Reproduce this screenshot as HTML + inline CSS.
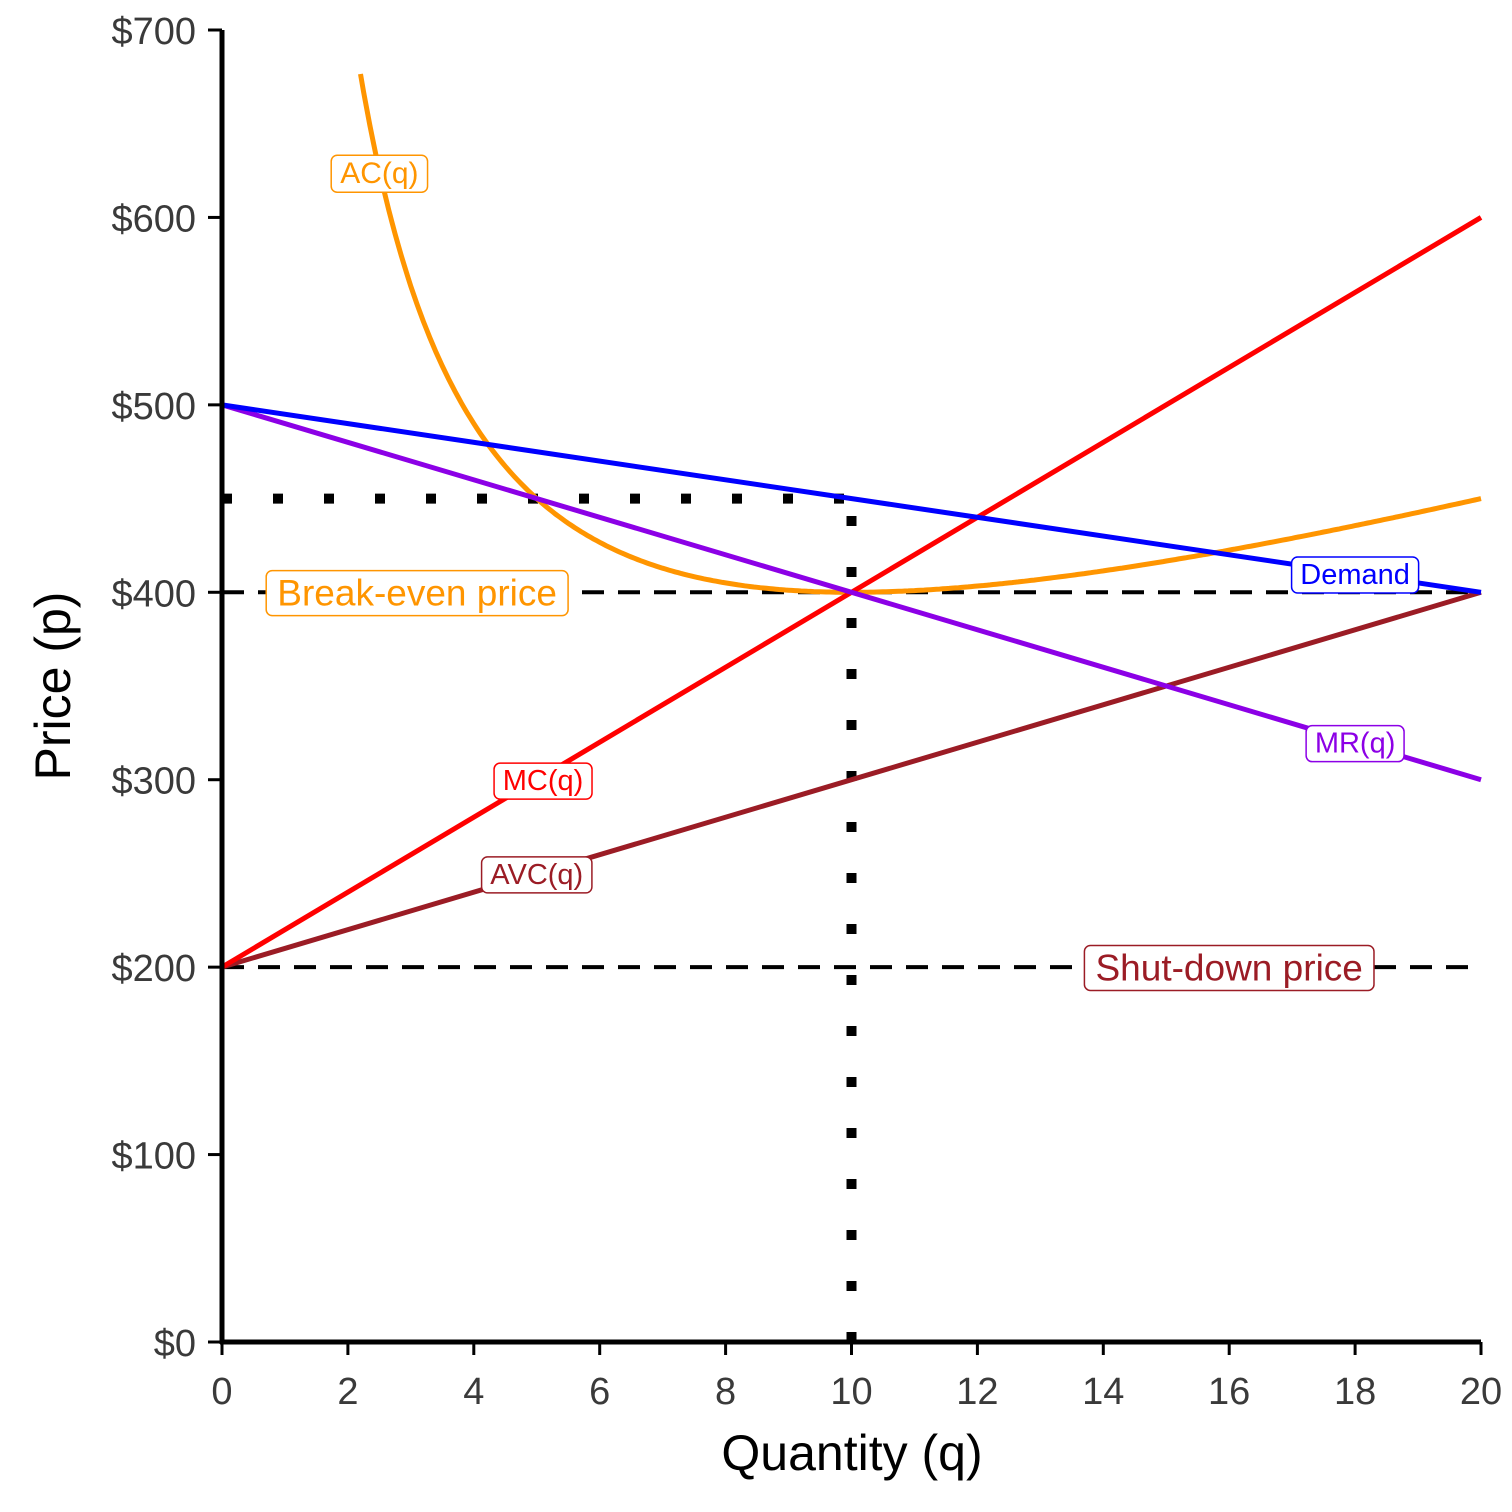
<!DOCTYPE html>
<html><head><meta charset="utf-8"><style>
body{margin:0;background:#fff}
svg{display:block;font-family:"Liberation Sans",sans-serif}
</style></head><body>
<svg id="chart" width="1512" height="1512" viewBox="0 0 1512 1512"></svg>
<script>
const xTicks=[0,2,4,6,8,10,12,14,16,18,20];
const yTicks=[0,100,200,300,400,500,600,700];
const demandInt=500, demandSlope=-5;
const mrInt=500, mrSlope=-10;
const mcInt=200, mcSlope=20;
const avcInt=200, avcSlope=10;
const fixedCost=1000;
const acStart=2.2;
const qStar=10, pStar=450, breakEven=400, shutDown=200;
const labels=[
 {t:"AC(q)",q:2.5,p:624,c:"#ff9500",fs:30,name:"ac-label"},
 {t:"Break-even price",q:3.1,p:400,c:"#ff9500",fs:37,name:"break-even-label"},
 {t:"Demand",q:18.0,p:410,c:"#0000ff",fs:29,name:"demand-label"},
 {t:"MR(q)",q:18.0,p:320,c:"#8c00e6",fs:29,name:"mr-label"},
 {t:"MC(q)",q:5.1,p:300,c:"#ff0000",fs:29,name:"mc-label"},
 {t:"AVC(q)",q:5.0,p:250,c:"#9b1c25",fs:29,name:"avc-label"},
 {t:"Shut-down price",q:16.0,p:200,c:"#9b1c25",fs:37,name:"shut-down-label"}
];
const X=q=>222+q*(1481-222)/20;
const Y=p=>1342-p*(1342-30)/700;
const svg=document.getElementById('chart');
const NS="http://www.w3.org/2000/svg";
function mk(tag,attrs,name,parent){const e=document.createElementNS(NS,tag);for(const k in attrs)e.setAttribute(k,attrs[k]);


(parent||svg).appendChild(e);return e;}
function line(q1,p1,q2,p2,c,w,dash,name){const a={x1:X(q1),y1:Y(p1),x2:X(q2),y2:Y(p2),stroke:c,'stroke-width':w};if(dash)a['stroke-dasharray']=dash;return mk('line',a,name);}
line(0,breakEven,20,breakEven,"#000",4,"22,14","break-even-line");
line(0,shutDown,20,shutDown,"#000",4,"22,14","shut-down-line");
line(0,pStar,qStar,pStar,"#000",10,"10,41","price-dotted-line");
line(qStar,0,qStar,pStar,"#000",10,"10,41","quantity-dotted-line");
let d="";for(let q=acStart;q<=20.0001;q+=0.05){const p=avcInt+avcSlope*q+fixedCost/q;d+=(d?"L":"M")+X(q).toFixed(1)+","+Y(p).toFixed(1);}
mk('path',{d:d,fill:"none",stroke:"#ff9500","stroke-width":5},"ac-curve");
line(0,avcInt,20,avcInt+avcSlope*20,"#9b1c25",5,null,"avc-line");
line(0,mcInt,20,mcInt+mcSlope*20,"#ff0000",5,null,"mc-line");
line(0,mrInt,20,mrInt+mrSlope*20,"#8c00e6",5,null,"mr-line");
line(0,demandInt,20,demandInt+demandSlope*20,"#0000ff",5,null,"demand-line");
mk('line',{x1:222,y1:30,x2:222,y2:1344,stroke:"#000","stroke-width":5},"y-axis");
mk('line',{x1:220,y1:1342,x2:1481,y2:1342,stroke:"#000","stroke-width":5},"x-axis");
xTicks.forEach(v=>{mk('line',{x1:X(v),y1:1342,x2:X(v),y2:1355,stroke:"#000","stroke-width":3},"x-tick");
 const t=mk('text',{x:X(v),y:1404,'text-anchor':'middle','font-size':38,fill:'#3a3a3a'},"x-tick-label");t.textContent=v;});
yTicks.forEach(v=>{mk('line',{x1:208,y1:Y(v),x2:222,y2:Y(v),stroke:"#000","stroke-width":3},"y-tick");
 const t=mk('text',{x:196,y:Y(v)+14,'text-anchor':'end','font-size':38,fill:'#3a3a3a'},"y-tick-label");t.textContent="$"+v;});
let t=mk('text',{x:852,y:1470,'text-anchor':'middle','font-size':50,fill:'#000'},"x-axis-title");t.textContent="Quantity (q)";
t=mk('text',{x:0,y:0,'text-anchor':'middle','font-size':50,fill:'#000',transform:"translate(70,686) rotate(-90)"},"y-axis-title");t.textContent="Price (p)";
labels.forEach(l=>{const g=mk('g',{},l.name);
 const tx=mk('text',{x:X(l.q),y:Y(l.p)+l.fs*0.36,'text-anchor':'middle','font-size':l.fs,fill:l.c},l.name+"-text",g);tx.textContent=l.t;
 const bb=tx.getBBox();const pad=l.fs*0.3;
 const r=mk('rect',{x:bb.x-pad,y:bb.y-2,width:bb.width+2*pad,height:bb.height+4,rx:6,fill:"#fff",stroke:l.c,"stroke-width":1.5},l.name+"-box",g);
 g.insertBefore(r,tx);});
</script>
</body></html>
